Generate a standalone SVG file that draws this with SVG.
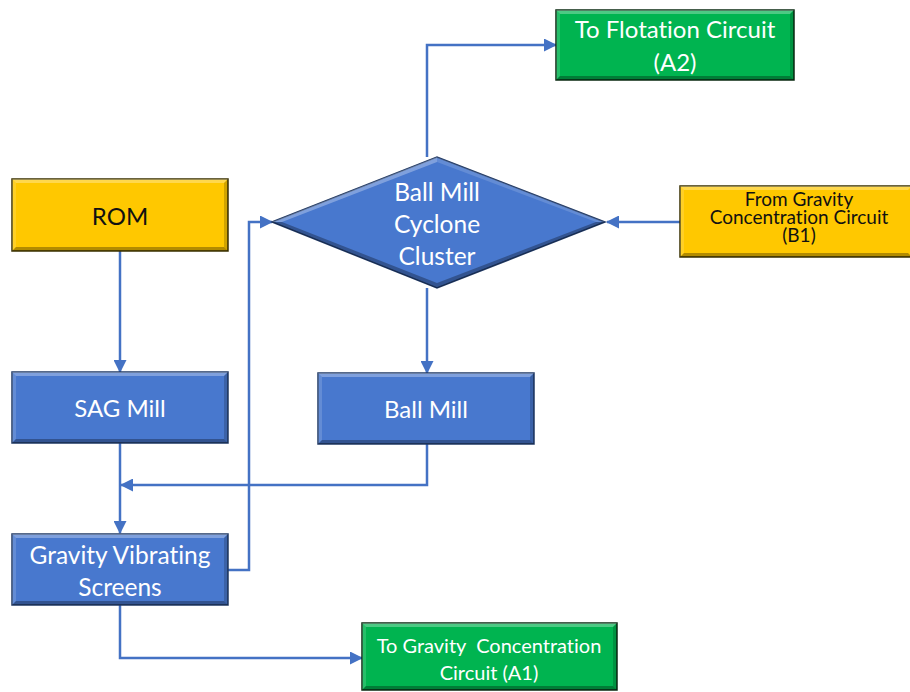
<svg xmlns="http://www.w3.org/2000/svg" width="910" height="692" viewBox="0 0 910 692">
<defs>
<style>
.t{font-family:Lato,"Open Sans","Liberation Sans",sans-serif;text-anchor:middle;font-variant-ligatures:none;}
.w{fill:#ffffff;}
.k{fill:#111111;}
.blue{fill:#4878CE;stroke:#1F3864;stroke-width:1.5;}
.yel{fill:#FFC800;stroke:#3A3000;stroke-width:1.5;}
.grn{fill:#00B450;stroke:#0A2A12;stroke-width:1.5;}
.hi{fill:#ffffff;opacity:0.3;}
.hi2{fill:#ffffff;opacity:0.15;}
.sh{fill:#000000;opacity:0.3;}
.sh2{fill:#000000;opacity:0.18;}
.c{fill:none;stroke:#4472C4;stroke-width:2.5;}
</style>
<marker id="ah" markerWidth="13" markerHeight="13" refX="12" refY="6.5" orient="auto" markerUnits="userSpaceOnUse" viewBox="0 0 13 13">
<path d="M0,0 L13,6.5 L0,13 Z" fill="#4472C4"/>
</marker>
</defs>

<g id="connectors">
<path class="c" d="M120,251 V372" marker-end="url(#ah)"/>
<path class="c" d="M120,443 V533" marker-end="url(#ah)"/>
<path class="c" d="M427,444 V485 H121" marker-end="url(#ah)"/>
<path class="c" d="M228,570 H249 V222 H272" marker-end="url(#ah)"/>
<path class="c" d="M427,157 V45 H556" marker-end="url(#ah)"/>
<path class="c" d="M427,288 V373" marker-end="url(#ah)"/>
<path class="c" d="M680,222 H607" marker-end="url(#ah)"/>
<path class="c" d="M120,605 V658 H362" marker-end="url(#ah)"/>
</g>

<g id="rom">
<rect class="yel" x="12" y="179" width="216" height="72"/>
<polygon class="hi" points="12,179 228,179 224,183 16,183"/>
<polygon class="hi2" points="12,179 16,183 16,247 12,251"/>
<polygon class="sh" points="12,251 228,251 224,247 16,247"/>
<polygon class="sh2" points="228,179 228,251 224,247 224,183"/>
<text class="t k" x="120" y="225" font-size="24">ROM</text>
</g>

<g id="sag">
<rect class="blue" x="12" y="372" width="216" height="71"/>
<polygon class="hi" points="12,372 228,372 224,376 16,376"/>
<polygon class="hi2" points="12,372 16,376 16,439 12,443"/>
<polygon class="sh" points="12,443 228,443 224,439 16,439"/>
<polygon class="sh2" points="228,372 228,443 224,439 224,376"/>
<text class="t w" x="120" y="417" font-size="24">SAG Mill</text>
</g>

<g id="ballmill">
<rect class="blue" x="318" y="373" width="216" height="71"/>
<polygon class="hi" points="318,373 534,373 530,377 322,377"/>
<polygon class="hi2" points="318,373 322,377 322,440 318,444"/>
<polygon class="sh" points="318,444 534,444 530,440 322,440"/>
<polygon class="sh2" points="534,373 534,444 530,440 530,377"/>
<text class="t w" x="426" y="418" font-size="24">Ball Mill</text>
</g>

<g id="cyclone">
<polygon class="blue" points="272,222 437,157 605,222 437,288"/>
<polygon class="hi" points="272,222 437,157 437,162 282,222"/>
<polygon class="hi2" points="437,157 605,222 596,222 437,162"/>
<polygon class="sh" points="272,222 282,222 437,283 437,288"/>
<polygon class="sh" points="437,288 605,222 596,222 437,283"/>
<text class="t w" x="437" y="201" font-size="24.5">Ball Mill</text>
<text class="t w" x="437" y="233" font-size="24.5">Cyclone</text>
<text class="t w" x="437" y="265" font-size="24.5">Cluster</text>
</g>

<g id="a2">
<rect class="grn" x="556" y="10" width="238" height="70"/>
<polygon class="hi" points="556,10 794,10 790,14 560,14"/>
<polygon class="hi2" points="556,10 560,14 560,76 556,80"/>
<polygon class="sh" points="556,80 794,80 790,76 560,76"/>
<polygon class="sh2" points="794,10 794,80 790,76 790,14"/>
<text class="t w" x="675" y="38" font-size="24">To Flotation Circuit</text>
<text class="t w" x="675" y="71" font-size="24">(A2)</text>
</g>

<g id="b1">
<rect class="yel" x="680" y="186" width="232" height="71"/>
<polygon class="hi" points="680,186 912,186 908,190 684,190"/>
<polygon class="hi2" points="680,186 684,190 684,253 680,257"/>
<polygon class="sh" points="680,257 912,257 908,253 684,253"/>
<text class="t k" x="799" y="206" font-size="19">From Gravity</text>
<text class="t k" x="799" y="224" font-size="19">Concentration Circuit</text>
<text class="t k" x="799" y="242" font-size="19">(B1)</text>
</g>

<g id="screens">
<rect class="blue" x="12" y="534" width="216" height="71"/>
<polygon class="hi" points="12,534 228,534 224,538 16,538"/>
<polygon class="hi2" points="12,534 16,538 16,601 12,605"/>
<polygon class="sh" points="12,605 228,605 224,601 16,601"/>
<polygon class="sh2" points="228,534 228,605 224,601 224,538"/>
<text class="t w" x="120" y="564" font-size="24.5">Gravity Vibrating</text>
<text class="t w" x="120" y="596" font-size="24.5">Screens</text>
</g>

<g id="a1">
<rect class="grn" x="362" y="623" width="255" height="67"/>
<polygon class="hi" points="362,623 617,623 613,627 366,627"/>
<polygon class="hi2" points="362,623 366,627 366,686 362,690"/>
<polygon class="sh" points="362,690 617,690 613,686 366,686"/>
<polygon class="sh2" points="617,623 617,690 613,686 613,627"/>
<text class="t w" x="489" y="653" font-size="20" xml:space="preserve">To Gravity  Concentration</text>
<text class="t w" x="489" y="680" font-size="20">Circuit (A1)</text>
</g>
</svg>
